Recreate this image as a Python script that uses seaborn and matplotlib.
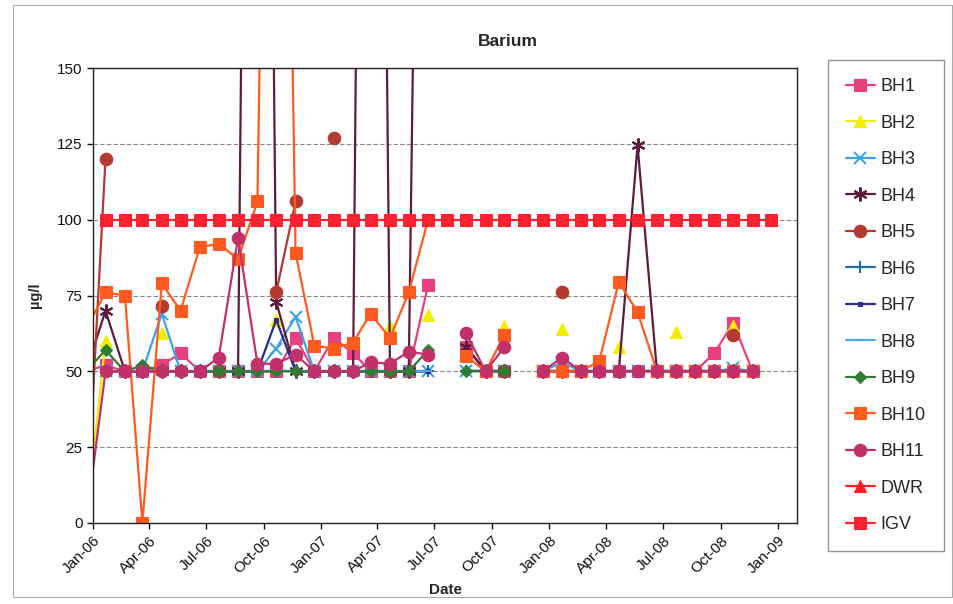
import numpy as np
import pandas as pd
import seaborn as sns
import matplotlib.pyplot as plt
import matplotlib.dates as mdates
from matplotlib.lines import Line2D
from matplotlib.patches import Rectangle

n = np.nan

# sampling dates: Dec-05 then monthly (around the 21st)
dates = pd.date_range('2005-12-01', periods=37, freq='MS') + pd.Timedelta(days=20)
bh_dates = dates[:36]      # Dec-05 .. Nov-08
ref_dates = dates[1:]      # Jan-06 .. Dec-08

# values: Dec-05, 2006 (12), 2007 (12), 2008 Jan-Nov (11)
bh1 = [50,
       52, 50, 50, 52, 56, 50, 50, 50, 50, 50, 61, 50,
       61, 56, 50, 50, 50, 78.5, n, 58, 50, 50, n, 50,
       50, 50, 50, 50, 50, 50, 50, 50, 56, 66, 50]
bh2 = [0,
       60, n, n, 62.5, n, n, n, n, n, 67, n, n,
       n, n, n, 65, n, 68.5, n, n, n, 65, n, n,
       64, n, n, 58, n, n, 63, n, n, 65, n]
bh3 = [n,
       50, 50, 50, 69, 50, 50, 50, 50, 50, 57.5, 68, 50,
       50, 50, 50, 50, 50, 50, n, 50, 50, 50, n, 50,
       53, 50, 50, 50, 50, 50, 50, 50, 50, 51, 50]
bh4 = [50,
       70, 50, 50, 50, 50, 50, 50, 50, 700, 73, 50, 50,
       50, 50, 700, 50, 50, 525, n, 58, 50, 50, n, 50,
       50, 50, 50, 50, 124.5, 50, 50, 50, 50, 50, 50]
bh5 = [0,
       120, n, n, 71.5, n, n, 50, n, n, 76, 106, n,
       127, n, n, 50, n, n, n, n, n, 50, n, n,
       76, n, n, 50, n, n, 50, n, n, 62, n]
bh6 = [n,
       50, 50, 50, 50, 50, 50, 50, 50, 50, 50, 50, 50,
       50, 50, 50, 50, 50, 50, n, 50, 50, 50, n, 50,
       50, 50, 50, 50, 50, 50, 50, 50, 50, 50, 50]
bh7 = [n,
       50, 50, 50, 50, 50, 50, 50, 50, 50, 67, 50, 50,
       50, 50, 50, 50, 50, 50, n, 50, 50, 50, n, 50,
       50, 50, 50, 50, 50, 50, 50, 50, 50, 50, 50]
bh8 = [n,
       50, 50, 50, 50, 50, 50, 50, 50, 50, 50, 50, 50,
       50, 50, 50, 50, 50, 50, n, 50, 50, 50, n, 50,
       50, 50, 50, 50, 50, 50, 50, 50, 50, 50, 50]
bh9 = [50,
       57, 50, 52, 50, 50, 50, 50, 50, 50, 50, 50, 50,
       50, 50, 50, 50, 50, 57, n, 50, 50, 50, n, 50,
       50, 50, 50, 50, 50, 50, 50, 50, 50, 50, 50]
bh10 = [64,
        76, 75, 0, 79, 70, 91, 92, 87, 106, 500, 89, 58.5,
        57.5, 59.5, 69, 61, 76, 100, n, 55, 50, 62, n, 50,
        50, 50, 53.5, 79.5, 69.5, 50, 50, 50, 50, 50, 50]
bh11 = [0,
        50, 50, 50, 50, 50, 50, 54.5, 94, 52.5, 52.5, 55.5, 50,
        50, 50, 53, 52.5, 56.5, 55.5, n, 62.5, 50, 58, n, 50,
        54.5, 50, 50, 50, 50, 50, 50, 50, 50, 50, 50]
dwr = [700] * 36
igv = [100] * 36

series = [
    # name, values, dates, color, marker, size
    ('BH1', bh1, bh_dates, '#e8407f', 's', 8),
    ('BH2', bh2, bh_dates, '#f2ee00', '^', 9),
    ('BH3', bh3, bh_dates, '#3fa3e3', 'x', 8),
    ('BH4', bh4, bh_dates, '#5c1c3c', (6, 2, 0), 10),
    ('BH5', bh5, bh_dates, '#b23a30', 'o', 9),
    ('BH6', bh6, bh_dates, '#1f6f9f', '+', 9),
    ('BH7', bh7, bh_dates, '#2b2b8c', 's', 3),
    ('BH8', bh8, bh_dates, '#4da6e8', '_', 6),
    ('BH9', bh9, bh_dates, '#2e7d32', 'D', 6),
    ('BH10', bh10, bh_dates, '#ff5a1f', 's', 9),
    ('BH11', bh11, bh_dates, '#c2306a', 'o', 9),
    ('DWR', dwr, ref_dates, '#ff2020', '^', 9),
    ('IGV', igv, ref_dates, '#ff2030', 's', 8),
]

sns.set_theme(style='white')
plt.rcParams['font.family'] = ['Liberation Sans', 'DejaVu Sans']

fig = plt.figure(figsize=(9.54, 6.04), dpi=100)
ax = fig.add_axes([93 / 954, 1 - 523 / 604, (797 - 93) / 954, (523 - 68) / 604])


def mew(marker):
    return 1.5 if marker in ('x', '+', '_') or isinstance(marker, tuple) else 0.8


handles = []
for name, vals, d, color, marker, ms in series:
    df = pd.DataFrame({'date': d, 'value': vals})
    df['seg'] = df['value'].isna().cumsum()
    df = df.dropna()
    sns.lineplot(data=df, x='date', y='value', units='seg', estimator=None,
                 color=color, marker=marker, markersize=ms,
                 markeredgecolor=color, markeredgewidth=mew(marker),
                 linewidth=1.6, legend=False, ax=ax)
    handles.append(Line2D([], [], color=color, marker=marker, markersize=ms,
                          markeredgecolor=color, linewidth=1.6,
                          markeredgewidth=mew(marker)))

ax.set_ylim(0, 150)
ax.set_yticks([0, 25, 50, 75, 100, 125, 150])
ax.set_xlim(pd.Timestamp('2006-01-01'), pd.Timestamp('2009-01-31'))
ax.xaxis.set_major_locator(mdates.MonthLocator(bymonth=[1, 4, 7, 10]))
ax.xaxis.set_major_formatter(mdates.DateFormatter('%b-%y'))
for lab in ax.get_xticklabels():
    lab.set_rotation(45)
    lab.set_ha('right')
    lab.set_rotation_mode('anchor')
ax.tick_params(axis='both', labelsize=11, colors='#111111', bottom=True, left=True,
               length=4, width=1, direction='out')
ax.set_xlabel('')
ax.set_ylabel('')
ax.grid(axis='y', color='#888888', linestyle=(0, (4, 2)), linewidth=0.8)
ax.set_axisbelow(True)
for sp in ax.spines.values():
    sp.set_color('#222222')
    sp.set_linewidth(1)

fig.text(508 / 954, 1 - 42 / 604, 'Barium', ha='center', va='center',
         fontsize=12.5, fontweight='bold')
fig.text(35 / 954, 1 - 295 / 604, 'µg/l', ha='center', va='center',
         rotation=90, fontsize=10.5, fontweight='bold')
fig.text(446 / 954, 1 - 590 / 604, 'Date', ha='center', va='center',
         fontsize=11, fontweight='bold')

fig.legend(handles, [s[0] for s in series], loc='upper left',
           bbox_to_anchor=(828 / 954, 1 - 60 / 604), frameon=True,
           fancybox=False, edgecolor='#777777', fontsize=13,
           handlelength=1.6, handletextpad=0.3, labelspacing=1.08,
           borderpad=1.0, borderaxespad=0)

fig.patches.append(Rectangle((13 / 954, 1 - 597 / 604), 939 / 954, 592 / 604,
                             transform=fig.transFigure, fill=False,
                             edgecolor='#aaaaaa', linewidth=0.8))

fig.savefig('out.png', dpi=100)
